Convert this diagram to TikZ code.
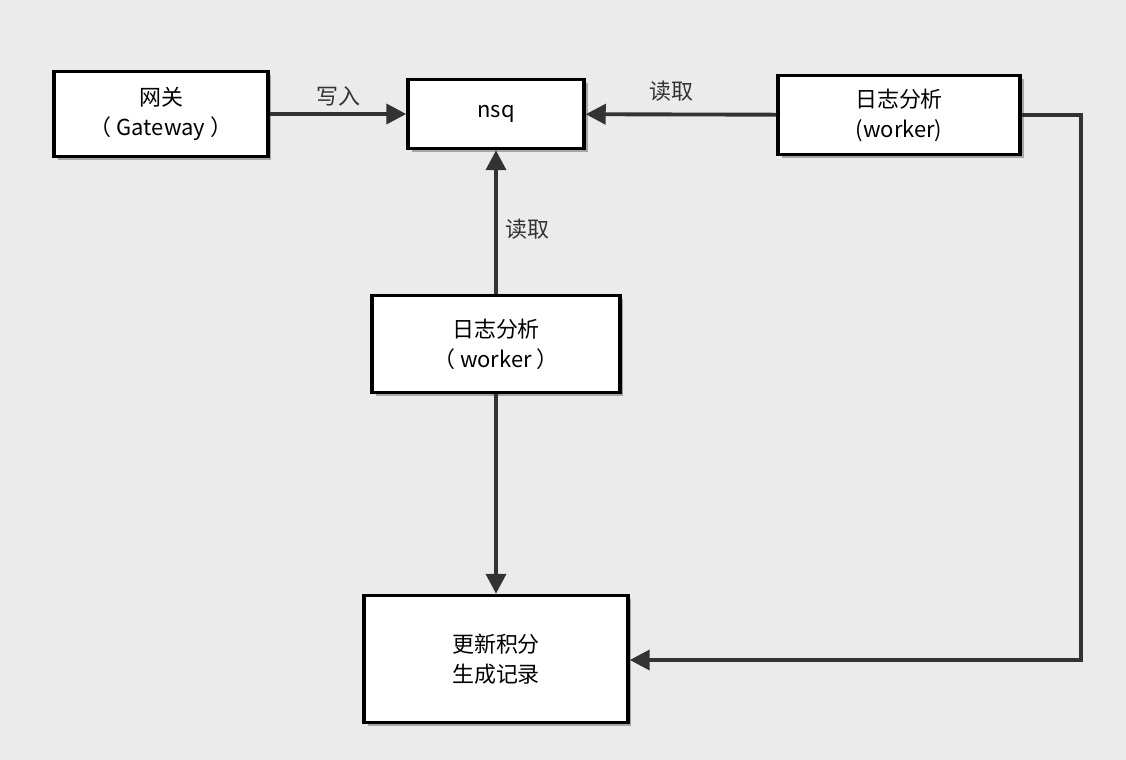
\documentclass[tikz,border=0pt]{standalone}
\usepackage{fontspec}
\setmainfont{Noto Sans CJK SC}
\usetikzlibrary{arrows.meta,positioning,shadows}
\definecolor{bg}{HTML}{EBEBEB}
\definecolor{ink}{HTML}{333333}
\tikzset{
	box/.style={draw=black,line width=2pt,fill=white,align=center,inner sep=0pt,
		drop shadow={shadow xshift=2pt,shadow yshift=-2pt,fill=black!35,opacity=1},
		font=\fontsize{12.5}{17}\selectfont},
	link/.style={draw=ink,line width=2.2pt,-{Triangle[length=4mm,width=4mm]}},
	tag/.style={font=\fontsize{12.5}{15}\selectfont,text=ink}
}
\begin{document}
\begin{tikzpicture}[x=0.02cm,y=-0.02cm]
	\fill[bg] (0,0) rectangle (1126,760);
	\useasboundingbox (0,0) rectangle (1126,760);
	
	\node[box,minimum width=4.28cm,minimum height=1.7cm] (gw) at (161,114) {网关\\（ Gateway ）};
	\node[box,minimum width=3.52cm,minimum height=1.38cm] (nsq) at (496,114) {nsq};
	\node[box,minimum width=4.84cm,minimum height=1.58cm] (wr) at (899,115) {日志分析\\(worker)};
	\node[box,minimum width=4.96cm,minimum height=1.94cm] (wm) at (496,344) {日志分析\\（ worker ）};
	\node[box,minimum width=5.28cm,minimum height=2.54cm] (up) at (496,659) {更新积分\\生成记录};
	\coordinate (turn1) at (1081,115);
	\coordinate (turn2) at (1081,660);
	
	\draw[link] (gw) -- (nsq) node[tag,midway,above=0pt] {写入};
	\draw[link] (wr) -- (nsq) node[tag,pos=0.55,above=3pt] {读取};
	\draw[link] (wm) -- (nsq) node[tag,pos=0.45,right=1pt] {读取};
	\draw[link] (wm) -- (up);
	\draw[link] (wr.east) -- (turn1) -- (turn2) -- (up.east |- turn2);
\end{tikzpicture}
\end{document}
